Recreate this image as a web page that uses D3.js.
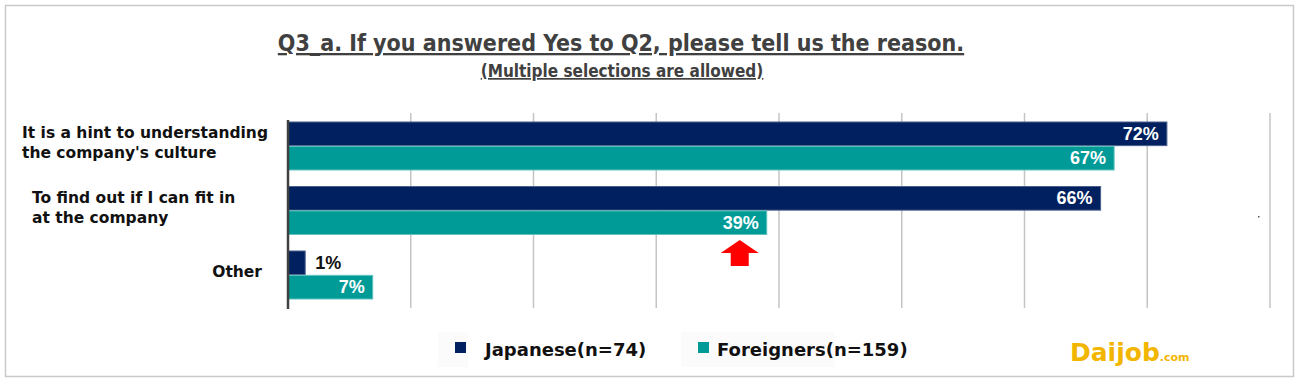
<!DOCTYPE html>
<html>
<head>
<meta charset="utf-8">
<script src="https://cdn.jsdelivr.net/npm/d3@7"></script>
<style>
  body { margin: 0; background: #fff; }
  svg { display: block; }
</style>
</head>
<body>
<div id="chart"></div>
<script>
const categories = ["It is a hint to understanding the company's culture", "To find out if I can fit in at the company", "Other"];
const labelLines = [["It is a hint to understanding", "the company's culture"], ["To find out if I can fit in", "at the company"], ["Other"]];
const series = ["Japanese(n=74)", "Foreigners(n=159)"];
const japanese = [71.6, 66.2, 1.4];
const foreigners = [67.3, 39.0, 6.9];
const valueLabels = [["72%", "66%", "1%"], ["67%", "39%", "7%"]];
const xTicks = [0, 10, 20, 30, 40, 50, 60, 70, 80];
const colors = ["#00205f", "#009b97"];

const width = 1300, height = 383;
const svg = d3.select("#chart").append("svg").attr("width", width).attr("height", height);

// frame
svg.append("rect").attr("x", 5.5).attr("y", 5.5).attr("width", 1288).attr("height", 371)
  .attr("fill", "#fff").attr("stroke", "#c9c9c9").attr("stroke-width", 1.5);

// titles
svg.append("text").attr("x", 621).attr("y", 51).attr("text-anchor", "middle")
  .attr("font-family", "DejaVu Sans Condensed").attr("font-weight", "bold").attr("font-size", 23)
  .attr("fill", "#404040").attr("text-decoration", "underline")
  .text("Q3_a. If you answered Yes to Q2, please tell us the reason.");
svg.append("text").attr("x", 622).attr("y", 77).attr("text-anchor", "middle")
  .attr("font-family", "DejaVu Sans Condensed").attr("font-weight", "bold").attr("font-size", 17)
  .attr("fill", "#404040").attr("text-decoration", "underline")
  .text("(Multiple selections are allowed)");

const x = d3.scaleLinear().domain([0, 80]).range([288, 1270]);
const y = d3.scaleBand().domain(categories).range([122, 299]).paddingInner(0.256).paddingOuter(0);
const ySub = d3.scaleBand().domain(series).range([0, y.bandwidth()]).paddingInner(0.03);

// grid
svg.append("g").selectAll("line").data(xTicks.slice(1)).join("line")
  .attr("x1", d => x(d)).attr("x2", d => x(d))
  .attr("y1", 113).attr("y2", 308)
  .attr("stroke", "#c4c4c4").attr("stroke-width", 1.5);

const rows = categories.map((c, i) => ({ cat: c, vals: [japanese[i], foreigners[i]], i }));

const g = svg.append("g").selectAll("g").data(rows).join("g")
  .attr("transform", d => `translate(0,${y(d.cat)})`);

g.selectAll("rect").data(d => d.vals.map((v, s) => ({ v, s, i: d.i }))).join("rect")
  .attr("x", x(0)).attr("y", d => ySub(series[d.s]))
  .attr("width", d => x(d.v) - x(0)).attr("height", ySub.bandwidth())
  .attr("fill", d => colors[d.s])
  .attr("stroke", d => d.s === 0 ? "#4a5f8c" : "#5fc2bf").attr("stroke-width", 1);

g.selectAll("text.val").data(d => d.vals.map((v, s) => ({ v, s, i: d.i }))).join("text")
  .attr("class", "val")
  .attr("x", d => d.v < 3 ? x(d.v) + 10 : x(d.v) - 8)
  .attr("y", d => ySub(series[d.s]) + ySub.bandwidth() / 2 + 6)
  .attr("text-anchor", d => d.v < 3 ? "start" : "end")
  .attr("font-family", "Liberation Sans, Arial, sans-serif").attr("font-weight", "bold").attr("font-size", 18)
  .attr("fill", d => d.v < 3 ? "#111" : "#fff")
  .text(d => valueLabels[d.s][d.i]);

// axis line
svg.append("line").attr("x1", x(0)).attr("x2", x(0)).attr("y1", 120).attr("y2", 309)
  .attr("stroke", "#404040").attr("stroke-width", 2.5);

// category labels
const labelX = [22, 32, 262];
const labelAnchor = ["start", "start", "end"];
svg.append("g").selectAll("text").data(rows).join("text")
  .attr("x", d => labelX[d.i]).attr("text-anchor", d => labelAnchor[d.i])
  .attr("font-family", "DejaVu Sans, Verdana, sans-serif").attr("font-weight", "bold").attr("font-size", 15.5)
  .attr("fill", "#111")
  .each(function (d) {
    const lines = labelLines[d.i];
    const cy = y(d.cat) + y.bandwidth() / 2 - 4;
    d3.select(this).selectAll("tspan").data(lines).join("tspan")
      .attr("x", labelX[d.i])
      .attr("y", (l, k) => cy + (k - (lines.length - 1) / 2) * 20 + 6)
      .text(l => l);
  });

// red arrow pointing at 39%
const ax = x(foreigners[1]) - 27;
svg.append("path")
  .attr("d", `M${ax},240 L${ax + 19},253 L${ax + 9},253 L${ax + 9},266 L${ax - 9},266 L${ax - 9},253 L${ax - 19},253 Z`)
  .attr("fill", "#ff0000");

// stray dot
svg.append("rect").attr("x", 1258).attr("y", 216).attr("width", 1.5).attr("height", 1.5).attr("fill", "#555");

// legend
const legX = [438, 681];
const leg = svg.append("g").selectAll("g").data(series).join("g")
  .attr("transform", (d, i) => `translate(${legX[i]},332)`);
leg.append("rect").attr("x", 0).attr("y", 0).attr("width", (d, i) => i === 0 ? 30 : 153).attr("height", 35)
  .attr("fill", "#fbfbfb");
leg.append("rect").attr("x", 17).attr("y", 10).attr("width", 11).attr("height", 11)
  .attr("fill", (d, i) => colors[i]);
leg.append("text").attr("x", (d, i) => i === 0 ? 47 : 36).attr("y", 24)
  .attr("font-family", "DejaVu Sans, Verdana, sans-serif").attr("font-weight", "bold").attr("font-size", 18)
  .attr("fill", "#111").text(d => d);

// logo
const logo = svg.append("text").attr("x", 1070).attr("y", 361)
  .attr("font-family", "DejaVu Sans, sans-serif").attr("font-weight", "bold").attr("fill", "#f2b600");
logo.append("tspan").attr("font-size", 25).text("Daijob");
logo.append("tspan").attr("font-size", 11).text(".com");
</script>
</body>
</html>
